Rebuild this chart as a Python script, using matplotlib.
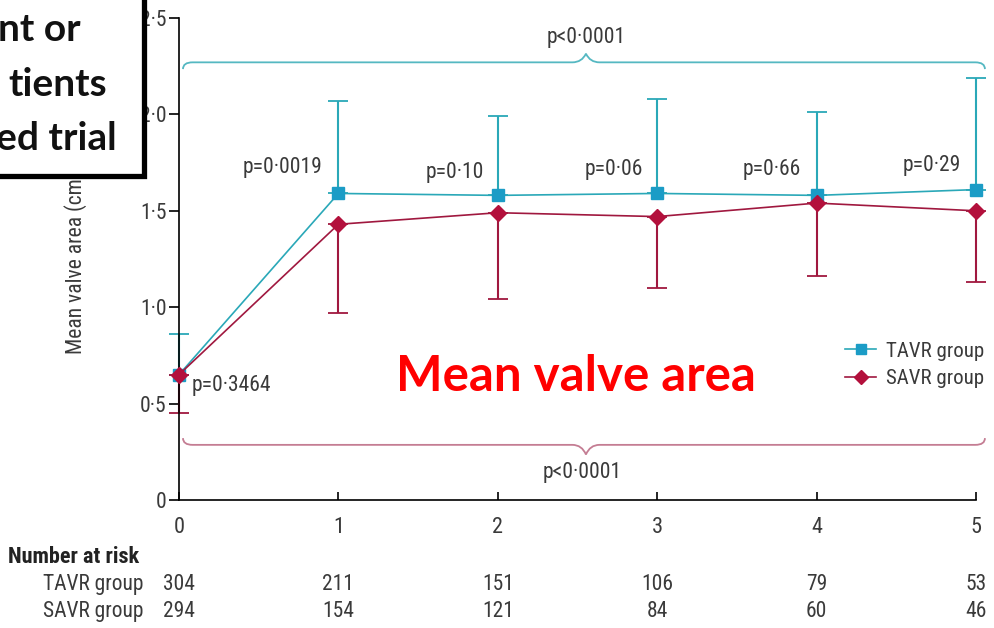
import matplotlib
matplotlib.use('Agg')
import matplotlib.pyplot as plt
from matplotlib.path import Path
from matplotlib.patches import PathPatch, Rectangle

plt.rcParams['font.family'] = ['Roboto Condensed', 'Lato', 'DejaVu Sans']

years = [0, 1, 2, 3, 4, 5]
tavr_mean = [0.65, 1.59, 1.58, 1.59, 1.58, 1.61]
tavr_upper = [0.86, 2.07, 1.99, 2.08, 2.01, 2.19]
savr_mean = [0.65, 1.43, 1.49, 1.47, 1.54, 1.50]
savr_lower = [0.45, 0.97, 1.04, 1.10, 1.16, 1.13]

tavr_risk = [304, 211, 151, 106, 79, 53]
savr_risk = [294, 154, 121, 84, 60, 46]

# p values between groups at each year, and where they sit
p_labels = ['p=0·0019', 'p=0·10', 'p=0·06', 'p=0·66', 'p=0·29']
p_x = [0.65, 1.73, 2.73, 3.72, 4.72]
p_y = [1.725, 1.70, 1.714, 1.714, 1.735]

yticks = [0, 0.5, 1.0, 1.5, 2.0, 2.5]
ytick_labels = ['0', '0·5', '1·0', '1·5', '2·0', '2·5']

tavr_col = '#2aa8b8'
tavr_mk = '#1b9cc6'
savr_col = '#a0183f'
savr_mk = '#b3103c'
txt_col = '#3a3a3a'


def brace(ax, x0, x1, xm, y, tip, peak, color, cw=0.06, mw=0.085):
    verts = [(x0, y + tip), (x0, y), (x0 + cw, y),
             (xm - mw, y), (xm - mw * 0.3, y), (xm, y + peak),
             (xm + mw * 0.3, y), (xm + mw, y),
             (x1 - cw, y), (x1, y), (x1, y + tip)]
    codes = [Path.MOVETO, Path.CURVE3, Path.CURVE3,
             Path.LINETO, Path.CURVE3, Path.CURVE3,
             Path.CURVE3, Path.CURVE3,
             Path.LINETO, Path.CURVE3, Path.CURVE3]
    ax.add_patch(PathPatch(Path(verts, codes), fill=False, edgecolor=color,
                           lw=1.3, clip_on=False))


fig = plt.figure(figsize=(9.94, 6.28), dpi=100)
ax = fig.add_axes([179 / 994, 128 / 628, 797 / 994, 482 / 628])

# error bars: TAVR upwards, SAVR downwards
tavr_err = [[0] * 6, [u - m for u, m in zip(tavr_upper, tavr_mean)]]
savr_err = [[m - l for m, l in zip(savr_mean, savr_lower)], [0] * 6]
ax.errorbar(years, tavr_mean, yerr=tavr_err, fmt='none', ecolor=tavr_col,
            elinewidth=1.5, capsize=7, capthick=1.3, clip_on=False)
ax.errorbar(years, savr_mean, yerr=savr_err, fmt='none', ecolor=savr_col,
            elinewidth=1.5, capsize=7, capthick=1.3, clip_on=False)

ax.plot(years, tavr_mean, color=tavr_col, lw=1.2, marker='s', ms=8.5,
        mfc=tavr_mk, mec=tavr_mk, label='TAVR group', clip_on=False, zorder=3)
ax.plot(years, savr_mean, color=savr_col, lw=1.2, marker='D', ms=8,
        mfc=savr_mk, mec=savr_mk, label='SAVR group', clip_on=False, zorder=4)

for lab, x, y in zip(p_labels, p_x, p_y):
    ax.text(x, y, lab, ha='center', va='center', fontsize=15.5, color=txt_col)
ax.text(0.08, 0.592, 'p=0·3464', ha='left', va='center', fontsize=15.5,
        color=txt_col)

# overall comparisons
brace(ax, 0.025, 5.056, 2.553, 2.27, -0.035, 0.045, '#55b8c2')
ax.text(2.553, 2.40, 'p<0·0001', ha='center', va='center', fontsize=15.5,
        color=txt_col)
brace(ax, 0.025, 5.056, 2.553, 0.286, 0.035, -0.05, '#c47d93')
ax.text(2.53, 0.145, 'p<0·0001', ha='center', va='center', fontsize=15.5,
        color=txt_col)

ax.set_xlim(0, 5)
ax.set_ylim(0, 2.5)
ax.set_xticks(years)
ax.set_yticks(yticks)
ax.set_yticklabels(ytick_labels)
for s in ['top', 'right']:
    ax.spines[s].set_visible(False)
for s in ['left', 'bottom']:
    ax.spines[s].set_linewidth(1.2)
ax.tick_params(axis='y', direction='out', length=7, width=1.2, pad=2,
               labelsize=15.5, labelcolor=txt_col)
ax.tick_params(axis='x', direction='in', length=6, width=1.2, pad=12,
               labelsize=16, labelcolor=txt_col)
ax.set_ylabel('Mean valve area (cm²)', fontsize=15.5, color=txt_col)
ax.yaxis.set_label_coords(-0.116, 0.5)

ax.legend(loc='upper left', bbox_to_anchor=(0.850, 0.456),
          bbox_transform=fig.transFigure, frameon=False, fontsize=15,
          handlelength=1.5, handletextpad=0.45, labelspacing=0.4,
          borderpad=0, borderaxespad=0, markerscale=0.85,
          labelcolor=txt_col)

# number at risk table
ax.text(-0.2146, -0.118, 'Number at risk', transform=ax.transAxes,
        ha='left', va='center', fontsize=16, fontweight='bold', color='#222222')
ax.text(-0.045, -0.176, 'TAVR group', transform=ax.transAxes, ha='right',
        va='center', fontsize=15.5, color=txt_col)
ax.text(-0.045, -0.232, 'SAVR group', transform=ax.transAxes, ha='right',
        va='center', fontsize=15.5, color=txt_col)
xt = ax.get_xaxis_transform()
for x, n1, n2 in zip(years, tavr_risk, savr_risk):
    ax.text(x, -0.176, str(n1), transform=xt, ha='center', va='center',
            fontsize=15.5, color=txt_col)
    ax.text(x, -0.232, str(n2), transform=xt, ha='center', va='center',
            fontsize=15.5, color=txt_col)

ax.text(2.49, 0.64, 'Mean valve area', ha='center', va='center', fontsize=35.5,
        fontweight='bold', color='#ff0000', family=['Lato', 'DejaVu Sans'])

# slide text box lying over the top left corner
box = Rectangle((-0.05, 1 - 175.5 / 628), 0.05 + 144 / 994, 0.5,
                transform=fig.transFigure, facecolor='white',
                edgecolor='black', lw=3.8, zorder=10)
fig.add_artist(box)
for line, xr, yb in [('nt or', 81, 41), ('tients', 107, 96), ('ed trial', 117, 150)]:
    fig.text(xr / 994, 1 - yb / 628, line, ha='right', va='baseline',
             fontsize=28, fontweight='bold', color='#111111',
             family=['Lato', 'DejaVu Sans'], zorder=11)

fig.savefig('out.png', dpi=100)
